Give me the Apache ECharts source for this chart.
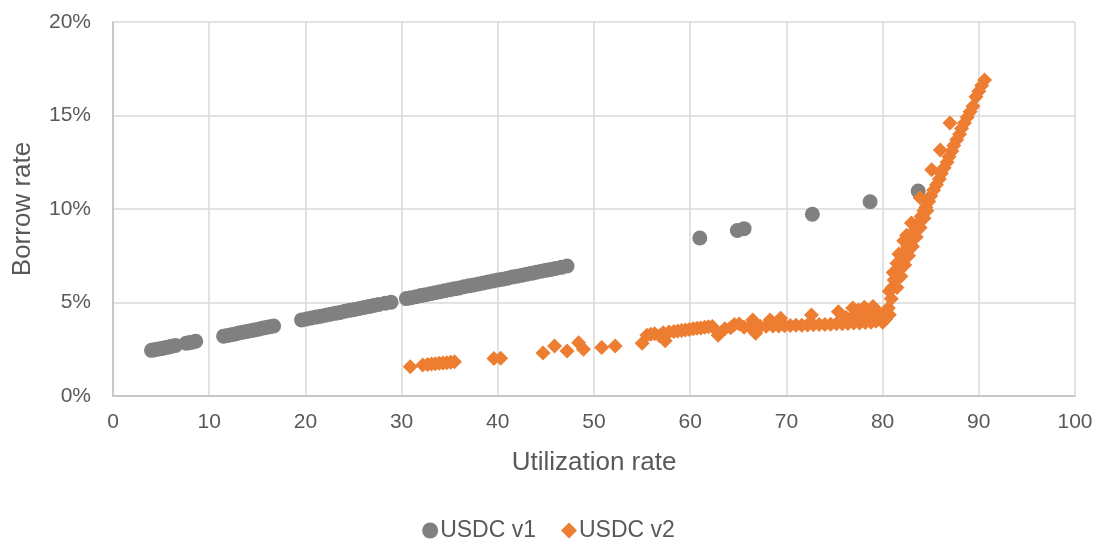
<!DOCTYPE html>
<html>
<head>
<meta charset="utf-8">
<script src="https://cdn.jsdelivr.net/npm/echarts@6/dist/echarts.min.js"></script>
<style>
html,body{margin:0;padding:0;background:#fff;}
#chart{width:1097px;height:542px;}
</style>
</head>
<body>
<div id="chart"></div>
<script>
// USDC v1: utilization (x) and borrow rate in % (y)
var v1Util = [4.0,4.3,4.6,4.9,5.2,5.5,5.8,6.1,6.5,7.6,7.9,8.2,8.6,
  11.5,11.9,12.3,12.7,13.1,13.5,13.9,14.3,14.7,15.1,15.5,15.9,16.3,16.7,
  19.6,20.1,20.6,21.1,21.6,22.1,22.6,23.1,23.6,24.1,24.6,25.1,25.6,26.1,26.6,27.1,27.6,28.3,28.9,
  30.5,31.0,31.5,32.0,32.5,33.0,33.5,34.0,34.5,35.0,35.5,36.0,36.5,37.0,37.5,38.0,38.5,39.0,39.5,40.0,
  40.5,41.0,41.5,42.0,42.5,43.0,43.5,44.0,44.5,45.0,45.5,46.0,46.6,47.2,
  61.0,64.9,65.6,72.7,78.7,83.7];
var v1Rate = [2.44,2.47,2.5,2.53,2.56,2.59,2.62,2.66,2.7,2.82,2.85,2.88,2.93,
  3.2,3.24,3.28,3.32,3.37,3.41,3.45,3.49,3.53,3.57,3.62,3.66,3.7,3.74,
  4.07,4.12,4.17,4.22,4.27,4.32,4.37,4.42,4.47,4.53,4.58,4.63,4.68,4.73,4.78,4.84,4.89,4.96,5.02,
  5.21,5.26,5.31,5.37,5.42,5.47,5.52,5.58,5.63,5.68,5.73,5.78,5.84,5.89,5.94,5.99,6.04,6.1,6.15,6.2,
  6.25,6.3,6.36,6.41,6.46,6.51,6.56,6.62,6.67,6.72,6.77,6.82,6.88,6.95,
  8.45,8.85,8.95,9.72,10.39,10.96];

// USDC v2
var v2Util = [30.9,32.2,32.7,33.1,33.5,33.9,34.3,34.7,35.1,35.5,39.6,40.3,44.7,45.9,47.2,48.4,48.9,50.8,52.2,55.0,
  55.5,55.9,56.3,56.8,57.2,57.4,57.8,58.3,58.7,59.1,59.5,59.9,60.3,60.7,61.1,61.5,61.9,62.3,62.9,
  63.6,64.2,64.6,65.1,65.6,66.2,66.5,66.8,67.3,67.9,68.3,68.6,69.2,69.4,69.8,70.4,71.0,71.6,72.2,72.6,72.8,
  73.4,74.0,74.6,75.2,75.4,75.8,76.4,76.9,77.0,77.5,77.6,78.1,78.2,78.6,78.8,79.0,79.3,79.6,79.8,80.1,80.4,
  76.2,77.2,77.9,78.4,79.5,80.0,80.3,80.7,
  80.6,80.9,81.0,81.2,81.4,81.5,81.6,81.7,81.8,82.0,82.0,82.2,82.2,82.4,82.5,82.6,82.8,83.0,83.0,83.2,83.4,83.6,83.8,
  81.5,81.9,82.3,82.7,83.1,83.5,83.9,84.3,84.6,80.7,81.1,
  83.9,84.0,84.3,84.5,84.8,85.0,85.1,85.3,85.6,85.9,86.0,86.1,86.4,86.7,86.9,87.0,87.2,87.4,87.7,88.0,88.2,88.5,
  88.8,89.1,89.4,89.7,90.0,90.3,90.6];
var v2Rate = [1.57,1.66,1.69,1.71,1.73,1.75,1.76,1.78,1.8,1.83,2.0,2.02,2.3,2.67,2.4,2.85,2.5,2.6,2.67,2.82,
  3.25,3.3,3.33,3.22,3.38,2.95,3.42,3.45,3.48,3.5,3.53,3.56,3.59,3.62,3.64,3.67,3.7,3.72,3.25,
  3.6,3.65,3.82,3.85,3.68,3.7,4.06,3.36,3.72,3.73,4.06,3.74,3.75,4.16,3.76,3.77,3.78,3.79,3.8,4.33,3.81,
  3.82,3.83,3.84,3.86,4.5,3.87,3.88,4.7,3.9,4.6,3.91,4.75,3.93,4.4,3.95,4.78,4.0,4.3,4.1,4.25,4.45,
  4.2,4.4,4.35,4.6,4.5,3.95,4.1,4.35,
  4.7,5.2,5.8,6.2,6.5,7.1,6.7,7.6,7.0,7.2,7.6,7.5,8.3,7.7,8.6,8.0,8.1,8.4,9.25,8.6,8.9,9.1,9.3,
  5.8,6.4,7.0,7.5,8.0,8.5,9.0,9.5,9.9,5.6,6.6,
  10.6,9.6,9.9,10.1,10.4,10.7,12.1,11.0,11.3,11.6,13.15,11.9,12.2,12.5,12.8,14.6,13.1,13.4,13.7,14.0,14.3,14.6,
  14.9,15.2,15.5,16.0,16.3,16.6,16.9];

var xTicks = {min: 0, max: 100, interval: 10};
var yTicks = {min: 0, max: 20, interval: 5};

function zip(a, b) { return a.map(function (v, i) { return [v, b[i]]; }); }

var font = 'Liberation Sans, Arial, sans-serif';
var textColor = '#595959';

var chart = echarts.init(document.getElementById('chart'), null, {renderer: 'canvas'});
chart.setOption({
  animation: false,
  backgroundColor: '#ffffff',
  textStyle: {fontFamily: font},
  grid: {left: 113, right: 22, top: 22, bottom: 146, containLabel: false, outerBoundsMode: 'none'},
  legend: {
    top: 514,
    left: 'center',
    itemWidth: 16,
    itemHeight: 16,
    itemGap: 25,
    textStyle: {fontSize: 23, color: textColor, fontFamily: font, padding: [0, 0, 0, -3]},
    data: [{name: 'USDC v1', icon: 'circle'}, {name: 'USDC v2', icon: 'diamond'}]
  },
  xAxis: {
    type: 'value',
    min: xTicks.min, max: xTicks.max, interval: xTicks.interval,
    name: 'Utilization rate',
    nameLocation: 'middle',
    nameGap: 54,
    nameTextStyle: {fontSize: 26, color: textColor, fontFamily: font},
    axisLine: {show: true, onZero: false, lineStyle: {color: '#BFBFBF', width: 1.5}},
    axisTick: {show: false},
    axisLabel: {fontSize: 21, color: textColor, margin: 16, fontFamily: font},
    splitLine: {show: true, lineStyle: {color: '#D9D9D9', width: 1.5}}
  },
  yAxis: {
    type: 'value',
    min: yTicks.min, max: yTicks.max, interval: yTicks.interval,
    name: 'Borrow rate',
    nameLocation: 'middle',
    nameGap: 77,
    nameRotate: 90,
    nameTextStyle: {fontSize: 26, color: textColor, fontFamily: font},
    axisLine: {show: true, onZero: false, lineStyle: {color: '#BFBFBF', width: 1.5}},
    axisTick: {show: false},
    axisLabel: {fontSize: 21, color: textColor, margin: 22, formatter: '{value}%', fontFamily: font},
    splitLine: {show: true, lineStyle: {color: '#D9D9D9', width: 1.5}}
  },
  series: [
    {
      name: 'USDC v1',
      type: 'scatter',
      symbol: 'circle',
      symbolSize: 15,
      itemStyle: {color: '#808080', opacity: 1},
      data: zip(v1Util, v1Rate)
    },
    {
      name: 'USDC v2',
      type: 'scatter',
      symbol: 'diamond',
      symbolSize: 15,
      itemStyle: {color: '#ED7D31', opacity: 1},
      data: zip(v2Util, v2Rate)
    }
  ]
});
</script>
</body>
</html>
